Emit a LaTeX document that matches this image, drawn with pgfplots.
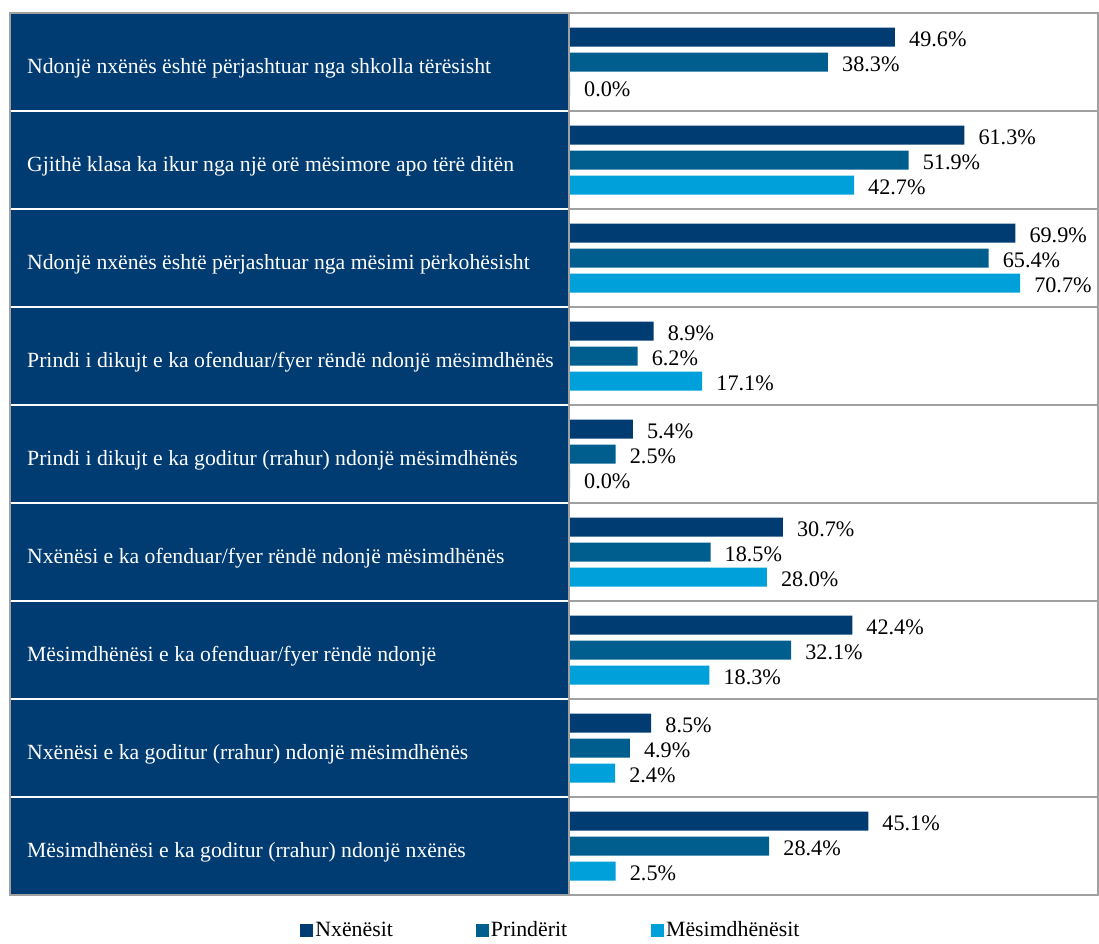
\documentclass[border=0pt]{standalone}
\usepackage{pgfplots}
\pgfplotsset{compat=1.18}
\usepackage{pgfplotstable}
\usepackage{fontspec}
\setmainfont{Liberation Serif}

\definecolor{cNx}{RGB}{0,59,113}
\definecolor{cPr}{RGB}{0,94,143}
\definecolor{cMe}{RGB}{0,160,218}
\definecolor{cLine}{RGB}{160,160,160}

% row: 0 = top
\pgfplotstableread{
y N P M
0 49.6 38.3 0.0
1 61.3 51.9 42.7
2 69.9 65.4 70.7
3 8.9 6.2 17.1
4 5.4 2.5 0.0
5 30.7 18.5 28.0
6 42.4 32.1 18.3
7 8.5 4.9 2.4
8 45.1 28.4 2.5
}\data

\begin{document}
\begin{tikzpicture}
\useasboundingbox (0,0) rectangle (1099pt,943pt);
% left panel
\fill[cNx] (10pt,48pt) rectangle (569pt,930pt);
\begin{axis}[
    at={(570pt,48pt)}, anchor=south west,
    scale only axis, width=528pt, height=882pt,
    xbar, bar width=19pt,
    xmin=0, xmax=89.04,
    ymin=-0.5, ymax=8.5, y dir=reverse,
    axis line style={draw=none},
    xtick=\empty,
    ytick={0,...,8},
    major tick length=0pt,
    yticklabels={
      Ndonjë nxënës është përjashtuar nga shkolla tërësisht,
      Gjithë klasa ka ikur nga një orë mësimore apo tërë ditën,
      Ndonjë nxënës është përjashtuar nga mësimi përkohësisht,
      Prindi i dikujt e ka ofenduar/fyer rëndë ndonjë mësimdhënës,
      Prindi i dikujt e ka goditur (rrahur) ndonjë mësimdhënës,
      Nxënësi e ka ofenduar/fyer rëndë ndonjë mësimdhënës,
      Mësimdhënësi e ka ofenduar/fyer rëndë ndonjë,
      Nxënësi e ka goditur (rrahur) ndonjë mësimdhënës,
      Mësimdhënësi e ka goditur (rrahur) ndonjë nxënës},
    yticklabel style={text=white, anchor=west, inner sep=0pt, xshift=-543pt, yshift=-6pt,
      font=\fontsize{21.7}{25}\selectfont},
    /pgf/number format/assume math mode=true,
    point meta=explicit,
    nodes near coords={\pgfmathprintnumber[fixed,fixed zerofill,precision=1]{\pgfplotspointmeta}\%},
    every node near coord/.append style={anchor=west, inner sep=0pt, xshift=14pt, yshift=-2pt,
      text=black, font=\fontsize{22.2}{26}\selectfont},
    clip=false,
    legend columns=3,
    legend style={at={(-0.511,-0.0397)}, anchor=west, draw=none, inner sep=0pt,
      font=\fontsize{21.8}{25}\selectfont,
      /tikz/column 2/.style={column sep=81pt},
      /tikz/column 4/.style={column sep=82pt}},
    legend image code/.code={\fill[#1] (0pt,-6.5pt) rectangle (13pt,6.5pt);},
]
\addplot[fill=cNx, draw=none, bar shift=25pt]
  table[x expr={ifthenelse(\thisrow{N}>0,\thisrow{N}+5.2,0)}, y=y, meta=N] {\data};
\addlegendentry{Nxënësit}
\addplot[fill=cPr, draw=none, bar shift=0pt]
  table[x expr={ifthenelse(\thisrow{P}>0,\thisrow{P}+5.2,0)}, y=y, meta=P] {\data};
\addlegendentry{Prindërit}
\addplot[fill=cMe, draw=none, bar shift=-25pt]
  table[x expr={ifthenelse(\thisrow{M}>0,\thisrow{M}+5.2,0)}, y=y, meta=M] {\data};
\addlegendentry{Mësimdhënësit}
\end{axis}
% row separators
\foreach \k in {1,...,8}{
  \draw[white, line width=2pt] (10pt,{930pt-98pt*\k}) -- (569pt,{930pt-98pt*\k});
  \draw[cLine, line width=1.5pt] (569pt,{930pt-98pt*\k}) -- (1098pt,{930pt-98pt*\k});
}
\draw[cLine, line width=1.5pt] (569pt,48pt) -- (569pt,930pt);
\draw[cLine, line width=1.5pt] (10pt,48pt) rectangle (1098pt,930pt);
\end{tikzpicture}
\end{document}
